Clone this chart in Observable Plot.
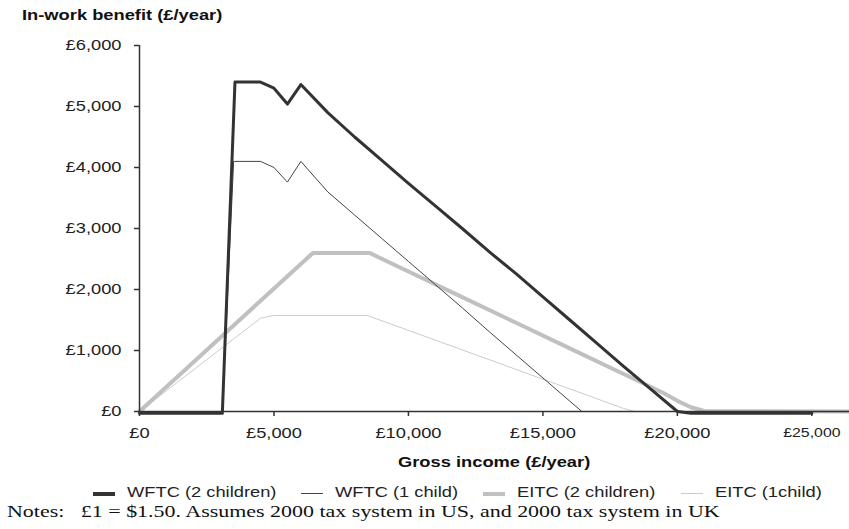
<!DOCTYPE html>
<html><head><meta charset="utf-8">
<script src="https://cdn.jsdelivr.net/npm/d3@7"></script>
<script src="https://cdn.jsdelivr.net/npm/@observablehq/plot@0.6"></script>
<style>
body{margin:0;background:#fff;}
#wrap{position:relative;width:849px;height:529px;overflow:hidden;font-family:"Liberation Sans",Arial,sans-serif;color:#222;}
.abs{position:absolute;white-space:pre;}
.legend{display:flex;align-items:baseline;font-size:15px;line-height:12px;}
.sw{display:inline-block;width:22px;margin-right:12px;}
.lab{white-space:pre;}
</style></head><body><div id="wrap"></div>
<script>
// ---- data ----
const xTicks = [0, 5000, 10000, 15000, 20000, 25000];
const yTicks = [0, 1000, 2000, 3000, 4000, 5000, 6000];

const wftc2Income  = [0, 3080, 3550, 4500, 5000, 5500, 6000, 7000, 8000, 9000, 10000, 11000, 12000, 13000, 14000, 15000, 16000, 17000, 18000, 19000, 20000, 20500, 25000];
const wftc2Benefit = [-30, -30, 5400, 5400, 5300, 5040, 5360, 4900, 4500, 4120, 3740, 3370, 3000, 2620, 2260, 1880, 1500, 1120, 740, 370, 0, -30, -30];

const wftc1Income  = [0, 3080, 3500, 4500, 5000, 5500, 6000, 7000, 8000, 9000, 10000, 11000, 12000, 13000, 14000, 15000, 16000, 16450, 25000];
const wftc1Benefit = [0, 0, 4100, 4100, 4000, 3760, 4100, 3600, 3220, 2840, 2460, 2080, 1700, 1310, 930, 550, 170, 0, 0];

const eitc2Income  = [0, 6450, 8550, 10000, 12000, 14000, 16000, 18000, 19000, 19500, 20000, 20500, 21000, 26400];
const eitc2Benefit = [0, 2600, 2600, 2295, 1875, 1455, 1035, 615, 405, 300, 175, 70, 10, 0];

const eitc1Income  = [0, 4500, 5000, 8460, 10000, 12000, 14000, 16000, 17000, 17500, 18000, 18400, 26400];
const eitc1Benefit = [0, 1530, 1575, 1575, 1330, 1010, 690, 370, 210, 130, 50, 0, 0];

const seriesNames = ["WFTC (2 children)", "WFTC (1 child)", "EITC (2 children)", "EITC (1child)"];

// ---- build tables ----
const toRows = (xs, ys) => xs.map((x, i) => ({income: x, benefit: ys[i]}));
const data = {
  "WFTC (2 children)": toRows(wftc2Income, wftc2Benefit),
  "WFTC (1 child)": toRows(wftc1Income, wftc1Benefit),
  "EITC (2 children)": toRows(eitc2Income, eitc2Benefit),
  "EITC (1child)": toRows(eitc1Income, eitc1Benefit)
};
const styles = {
  "WFTC (2 children)": {stroke: "#333333", strokeWidth: 3, swH: 4},
  "WFTC (1 child)": {stroke: "#444444", strokeWidth: 1, swH: 1},
  "EITC (2 children)": {stroke: "#c0c0c0", strokeWidth: 4, swH: 4},
  "EITC (1child)": {stroke: "#cccccc", strokeWidth: 1, swH: 1}
};
const drawOrder = ["EITC (1child)", "EITC (2 children)", "WFTC (1 child)", "WFTC (2 children)"];

const fmt = d => "£" + d3.format(",")(d);
const S = 1.22; // horizontal stretch of the reference's text

const plot = Plot.plot({
  width: 849, height: 529,
  marginLeft: 139, marginRight: 0, marginTop: 45, marginBottom: 118,
  style: {fontFamily: '"Liberation Sans", Arial, sans-serif', fontSize: "15px", color: "#222", background: "transparent", overflow: "visible"},
  x: {domain: [0, 26400]},
  y: {domain: [0, 6000]},
  marks: [
    ...drawOrder.map(k => Plot.line(data[k], {x: "income", y: "benefit", stroke: styles[k].stroke, strokeWidth: styles[k].strokeWidth, strokeLinejoin: "round"})),
    Plot.ruleY([0], {stroke: "#333", strokeWidth: 1.5}),
    Plot.ruleX([0], {stroke: "#333", strokeWidth: 1.5}),
    Plot.axisX(xTicks, {tickFormat: fmt, tickSize: 5, tickPadding: 11, stroke: "#333", strokeWidth: 1.5, label: null}),
    Plot.axisY(yTicks, {tickFormat: fmt, tickSize: 5, tickPadding: 13, stroke: "#333", strokeWidth: 1.5, label: null})
  ]
});
const wrap = document.getElementById("wrap");
plot.style.position = "absolute"; plot.style.left = "0"; plot.style.top = "0";
wrap.appendChild(plot);

// stretch SVG tick labels horizontally about their anchor
plot.querySelectorAll("text").forEach(t => {
  if (t.textContent.trim() === fmt(25000)) t.setAttribute("font-size", "13");
  t.setAttribute("transform", (t.getAttribute("transform") || "") + ` scale(${S},1)`);
});

// widen an HTML text by s without enlarging its box beyond the visible glyphs
function stretch(el, s = S) {
  const w = el.getBoundingClientRect().width;
  el.style.display = "inline-block";
  el.style.width = w + "px";
  el.style.marginRight = (w * (s - 1)) + "px";
  el.style.transform = `scaleX(${s})`;
  el.style.transformOrigin = "0 0";
  return w * s;
}
function addText(txt, css) {
  const d = document.createElement("div");
  d.className = "abs";
  d.textContent = txt;
  Object.assign(d.style, css);
  wrap.appendChild(d);
  return d;
}

// title
const title = addText("In-work benefit (£/year)", {left: "22px", top: "7px", fontSize: "15px", lineHeight: "15px", fontWeight: "bold", color: "#111"});
stretch(title);

// x-axis label
const xl = addText("Gross income (£/year)", {left: "0px", top: "455px", fontSize: "15px", lineHeight: "13px", fontWeight: "bold", color: "#111"});
const xw = stretch(xl);
xl.style.left = (494 - xw / 2) + "px";

// legend
const leg = document.createElement("div");
leg.className = "abs legend";
Object.assign(leg.style, {left: "93px", top: "486px"});
wrap.appendChild(leg);
const labs = [];
seriesNames.forEach((name, i) => {
  const sw = document.createElement("span");
  sw.className = "sw";
  const h = styles[name].swH;
  sw.style.height = h + "px";
  sw.style.background = styles[name].stroke;
  sw.style.marginLeft = i === 0 ? "0px" : "25px";
  sw.style.position = "relative";
  sw.style.top = (h === 4 ? -1 : -3) + "px";
  const lab = document.createElement("span");
  lab.className = "lab";
  lab.textContent = name;
  leg.appendChild(sw);
  leg.appendChild(lab);
  labs.push(lab);
});
const widths = labs.map(l => l.getBoundingClientRect().width);
labs.forEach((l, i) => {
  l.style.display = "inline-block";
  l.style.width = widths[i] + "px";
  l.style.marginRight = (widths[i] * (S - 1)) + "px";
  l.style.transform = `scaleX(${S})`;
  l.style.transformOrigin = "0 0";
});

// notes
const notes = addText("Notes:   £1 = $1.50. Assumes 2000 tax system in US, and 2000 tax system in UK",
  {left: "7px", top: "504px", fontSize: "17.5px", lineHeight: "14px", fontFamily: '"Liberation Serif", "Times New Roman", serif', color: "#111"});
stretch(notes, S * 18 / 17.5);
</script>
</body></html>
